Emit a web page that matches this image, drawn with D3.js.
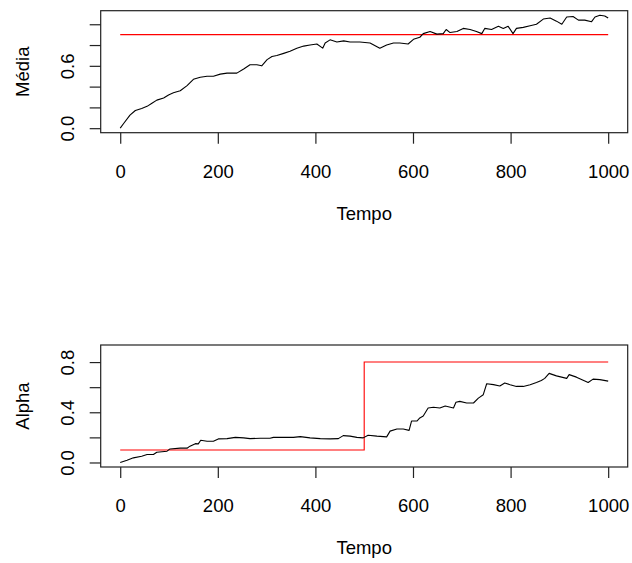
<!DOCTYPE html>
<html>
<head>
<meta charset="utf-8">
<script src="https://cdn.jsdelivr.net/npm/d3@7/dist/d3.min.js"></script>
<style>
  html, body { margin: 0; padding: 0; background: #fff; }
  svg { display: block; }
  text { font-family: "Liberation Sans", Arial, Helvetica, sans-serif; fill: #000; }
</style>
</head>
<body>
<svg id="chart" width="632" height="563"></svg>
<script>
// ---- data ----
const xTicks = [0, 200, 400, 600, 800, 1000];
const xLabel = "Tempo";

const mediaTicks = [0, 0.2, 0.4, 0.6, 0.8, 1.0];
const mediaTickLabels = ["0.0", "", "", "0.6", "", ""];
const mediaLabel = "Média";
const mediaTarget = 0.9;
const mediaPoints = [
  [0,0],[7,0.045],[20,0.125],[31,0.17],[44,0.19],[55,0.21],[65,0.24],[75,0.27],
  [89,0.29],[99,0.32],[109,0.34],[123,0.36],[137,0.41],[150,0.47],[164,0.49],
  [178,0.50],[191,0.50],[205,0.52],[219,0.53],[239,0.53],[253,0.57],[266,0.61],
  [280,0.61],[290,0.60],[301,0.66],[311,0.69],[321,0.70],[335,0.72],[348,0.74],
  [362,0.77],[376,0.79],[389,0.80],[403,0.81],[415,0.77],[420,0.82],[430,0.85],
  [444,0.83],[458,0.84],[471,0.83],[491,0.83],[512,0.82],[532,0.77],[546,0.80],
  [560,0.82],[573,0.82],[590,0.81],[601,0.855],[614,0.875],[621,0.91],[635,0.93],
  [649,0.905],[662,0.91],[668,0.95],[676,0.92],[690,0.93],[703,0.96],[717,0.95],
  [730,0.93],[741,0.91],[747,0.96],[761,0.95],[775,0.98],[785,0.96],[795,0.98],
  [805,0.91],[812,0.96],[826,0.97],[840,0.985],[853,1.0],[867,1.05],[881,1.06],
  [894,1.03],[905,1.00],[915,1.07],[928,1.075],[939,1.04],[952,1.04],[966,1.025],
  [973,1.07],[983,1.087],[993,1.08],[1000,1.06]
];

const alphaTicks = [0, 0.2, 0.4, 0.6, 0.8];
const alphaTickLabels = ["0.0", "", "0.4", "", "0.8"];
const alphaLabel = "Alpha";
const alphaYLim = [0, 0.9];
const alphaTargetPoints = [[0,0.1],[500,0.1],[500,0.8],[1000,0.8]];
const alphaPoints = [
  [0,0],[14,0.018],[27,0.037],[44,0.05],[55,0.063],[68,0.063],[75,0.082],[96,0.09],
  [102,0.108],[123,0.114],[137,0.114],[143,0.13],[154,0.15],[160,0.148],[165,0.177],
  [178,0.169],[191,0.169],[201,0.188],[219,0.19],[236,0.20],[253,0.196],[266,0.19],
  [287,0.193],[307,0.193],[314,0.20],[334,0.20],[355,0.20],[369,0.206],[389,0.196],
  [410,0.19],[430,0.188],[447,0.19],[457,0.214],[471,0.21],[485,0.20],[498,0.196],
  [508,0.217],[526,0.21],[546,0.204],[550,0.23],[553,0.25],[567,0.267],[580,0.267],
  [592,0.256],[597,0.33],[608,0.33],[614,0.355],[621,0.37],[631,0.434],[642,0.44],
  [655,0.434],[666,0.45],[683,0.434],[688,0.48],[696,0.487],[710,0.474],[724,0.474],
  [734,0.513],[744,0.54],[751,0.627],[765,0.62],[778,0.61],[788,0.633],[799,0.62],
  [812,0.606],[826,0.606],[840,0.62],[853,0.637],[863,0.653],[870,0.67],[879,0.71],
  [894,0.69],[915,0.67],[920,0.70],[935,0.68],[959,0.637],[969,0.664],[983,0.66],
  [1000,0.648]
];

// ---- layout ----
const svg = d3.select("#chart");
svg.append("rect").attr("width", 632).attr("height", 563).attr("fill", "#fff");

const FS = 18.5;
const boxLeft = 100.7, boxRight = 627.7;
const tickLen = 11;

function rExpand(lo, hi) { const d = (hi - lo) * 0.04; return [lo - d, hi + d]; }

const x = d3.scaleLinear().domain(rExpand(0, 1000)).range([boxLeft, boxRight]);

function panel(opts) {
  const { top, bottom, yDomain, yTicks, yTickLabels, yTitle, series, ref } = opts;
  const y = d3.scaleLinear().domain(yDomain).range([bottom, top]);
  const g = svg.append("g");

  const line = d3.line().x(d => x(d[0])).y(d => y(d[1]));

  // red reference line
  g.append("path").datum(ref).attr("d", line)
    .attr("fill", "none").attr("stroke", "#ff0000").attr("stroke-width", 1.1);

  // data line
  g.append("path").datum(series).attr("d", line)
    .attr("fill", "none").attr("stroke", "#000").attr("stroke-width", 1.1)
    .attr("stroke-linejoin", "round");

  // box
  g.append("rect").attr("x", boxLeft).attr("y", top)
    .attr("width", boxRight - boxLeft).attr("height", bottom - top)
    .attr("fill", "none").attr("stroke", "#222").attr("stroke-width", 1.2);

  // x axis
  const xa = g.append("g").attr("transform", `translate(0,${bottom})`)
    .call(d3.axisBottom(x).tickValues(xTicks).tickSize(tickLen).tickFormat(d3.format("d")));
  xa.select(".domain").remove();
  xa.selectAll(".tick line").attr("stroke", "#222").attr("stroke-width", 1.2);
  xa.selectAll(".tick text").attr("y", 45.3).attr("dy", 0)
    .attr("font-size", FS).attr("font-family", "Liberation Sans, Arial, sans-serif").attr("fill", "#000");

  // y axis
  const ya = g.append("g").attr("transform", `translate(${boxLeft},0)`)
    .call(d3.axisLeft(y).tickValues(yTicks).tickSize(tickLen)
      .tickFormat((d, i) => yTickLabels[i]));
  ya.select(".domain").remove();
  ya.selectAll(".tick line").attr("stroke", "#222").attr("stroke-width", 1.2);
  ya.selectAll(".tick text")
    .attr("x", 0).attr("dy", 0)
    .attr("transform", `translate(${73.8 - boxLeft},0) rotate(-90)`)
    .attr("text-anchor", "middle")
    .attr("font-size", FS).attr("font-family", "Liberation Sans, Arial, sans-serif").attr("fill", "#000");

  // axis titles
  g.append("text").attr("x", (boxLeft + boxRight) / 2).attr("y", bottom + 87)
    .attr("text-anchor", "middle").attr("font-size", FS).text(xLabel);
  g.append("text")
    .attr("transform", `translate(28.5,${(top + bottom) / 2}) rotate(-90)`)
    .attr("text-anchor", "middle").attr("font-size", FS).text(yTitle);
}

const mediaMax = d3.max(mediaPoints, d => d[1]);
panel({
  top: 10.7, bottom: 132.7,
  yDomain: rExpand(0, mediaMax),
  yTicks: mediaTicks, yTickLabels: mediaTickLabels, yTitle: mediaLabel,
  series: mediaPoints,
  ref: [[0, mediaTarget], [1000, mediaTarget]]
});

panel({
  top: 345, bottom: 467,
  yDomain: rExpand(alphaYLim[0], alphaYLim[1]),
  yTicks: alphaTicks, yTickLabels: alphaTickLabels, yTitle: alphaLabel,
  series: alphaPoints,
  ref: alphaTargetPoints
});
</script>
</body>
</html>
